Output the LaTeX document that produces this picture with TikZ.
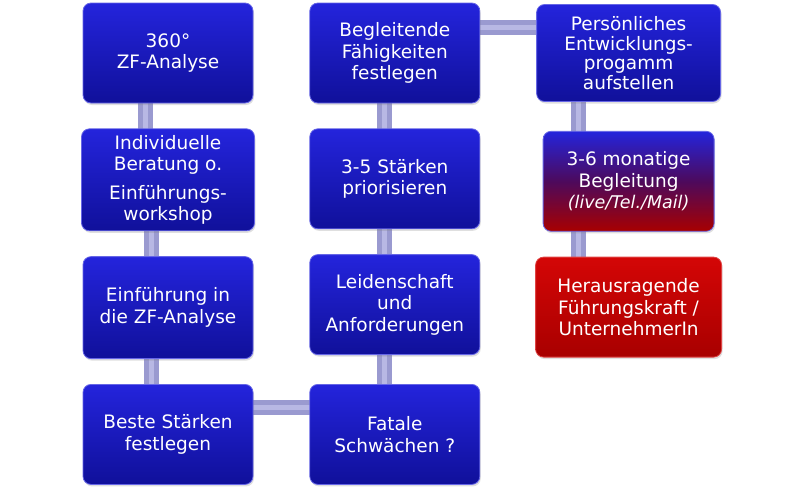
\documentclass[tikz,border=0pt]{standalone}
\usepackage{fontspec}
\setmainfont{DejaVu Sans}
\usetikzlibrary{positioning,backgrounds,shadows}
\definecolor{boxtop}{HTML}{2424DC}
\definecolor{boxbot}{HTML}{10109A}
\definecolor{redtop}{HTML}{D40606}
\definecolor{redbot}{HTML}{A80000}
\definecolor{linkout}{HTML}{9A9AD0}
\definecolor{linkin}{HTML}{B8B8E4}
\tikzset{
    phase/.style = {rounded corners=8pt, top color=boxtop, bottom color=boxbot,
                 draw=boxtop!70!white, line width=0.8pt, text=white,
                 drop shadow={opacity=0.25, shadow xshift=1pt, shadow yshift=-2pt},
                 minimum width=170pt, minimum height=100pt, align=center,
                 font=\fontsize{18.5}{21.5}\selectfont},
    link/.style = {draw=linkout, line width=5pt, double=linkin, double distance=5pt},
}

\begin{document}
\begin{tikzpicture}[x=1pt,y=-1pt]
\useasboundingbox (0,0) rectangle (800,491);
\node (zf)  [phase] at (168,53) {360°\\ZF-Analyse};
\node (ind) [phase,minimum width=173pt,minimum height=102pt,below=25pt of zf] {Individuelle\\Beratung o.\\[7pt]Einführungs-\\workshop};
\node (ein) [phase,minimum height=102pt,below=25pt of ind] {Einführung in\\die ZF-Analyse};
\node (bes) [phase,below=25pt of ein] {Beste Stärken\\festlegen};
\node (beg) [phase,right=56pt of zf] {Begleitende\\Fähigkeiten\\festlegen};
\node (pri) [phase,below=25pt of beg] {3-5 Stärken\\priorisieren};
\node (lei) [phase,below=25pt of pri] {Leidenschaft\\und\\Anforderungen};
\node (fat) [phase,right=56pt of bes] {Fatale\\Schwächen ?};
\node (per) [phase,minimum width=184pt,minimum height=97pt,right=56pt of beg,
             font=\fontsize{18.5}{19.5}\selectfont] {Persönliches\\Entwicklungs-\\progamm\\aufstellen};
\node (mon) [phase,minimum width=171pt,below=29pt of per,top color=boxtop,bottom color=redbot,
             middle color=boxbot!60!redbot] {3-6 monatige\\Begleitung\\{\fontsize{17.5}{20}\selectfont\itshape (live/Tel./Mail)}};
\node (her) [phase,minimum width=186pt,below=25pt of mon,top color=redtop,bottom color=redbot,
             draw=redtop!75!white] {Herausragende\\Führungskraft /\\UnternehmerIn};
\begin{scope}[on background layer]
\draw[link] ([xshift=-23pt]zf.center) -- ([xshift=-23pt]zf.center |- ind.center);
\draw[link] ([xshift=-17pt]ind.center) -- ([xshift=-17pt]ind.center |- ein.center);
\draw[link] ([xshift=-17pt]ein.center) -- ([xshift=-17pt]ein.center |- bes.center);
\draw[link] ([yshift=26.5pt]bes.center) -- ([yshift=26.5pt]bes.center -| fat.center);
\draw[link] ([xshift=-10.5pt]fat.center) -- ([xshift=-10.5pt]fat.center |- lei.center);
\draw[link] ([xshift=-10.5pt]lei.center) -- ([xshift=-10.5pt]lei.center |- pri.center);
\draw[link] ([xshift=-10.5pt]pri.center) -- ([xshift=-10.5pt]pri.center |- beg.center);
\draw[link] ([yshift=25.5pt]beg.center) -- ([yshift=25.5pt]beg.center -| per.center);
\draw[link] ([xshift=-50pt]per.center) -- ([xshift=-50pt]per.center |- mon.center);
\draw[link] ([xshift=-50pt]mon.center) -- ([xshift=-50pt]mon.center |- her.center);
\end{scope}
\end{tikzpicture}
\end{document}
